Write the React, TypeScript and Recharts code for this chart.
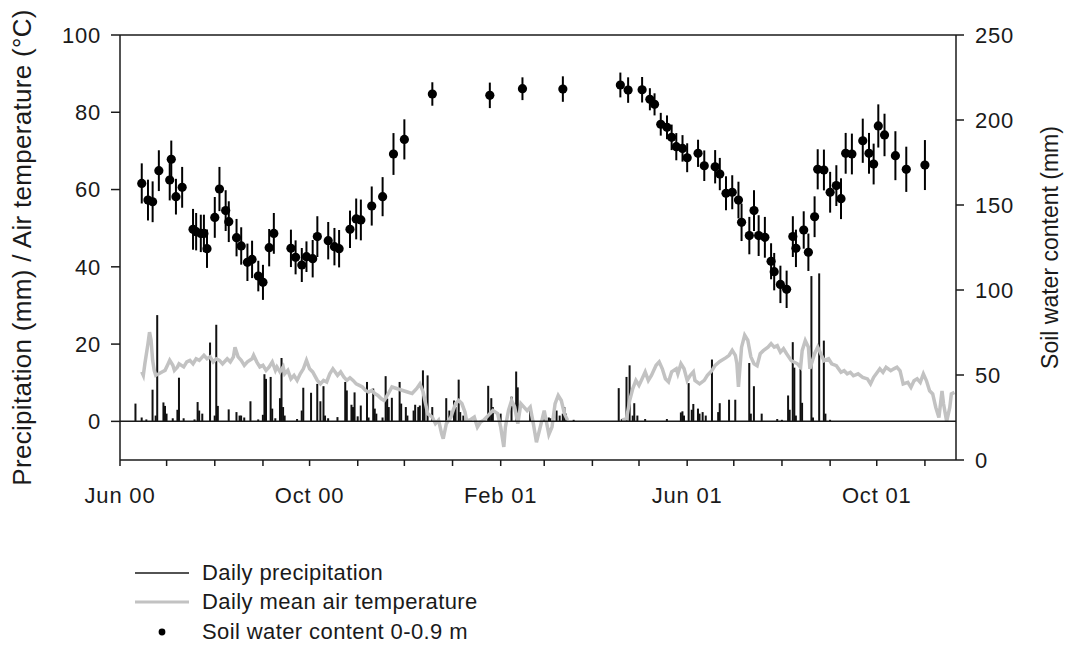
import React from 'react';
import {
  ComposedChart,
  Bar,
  Line,
  Scatter,
  ErrorBar,
  XAxis,
  YAxis,
  ReferenceLine,
  Legend,
  Label,
} from 'recharts';

const FONT = '"Liberation Sans", Arial, Helvetica, sans-serif';
const INK = '#1a1a1a';
const TEMP_GREY = '#c2c2c2';

// x values are days counted from 1 June 2000
const MONTH_TICKS = [0, 30, 61, 92, 122, 153, 183, 214, 245, 273, 304, 334, 365, 395, 426, 457, 487, 518];
const MONTH_LABELS: Record<number, string> = {
  0: 'Jun 00',
  122: 'Oct 00',
  245: 'Feb 01',
  365: 'Jun 01',
  487: 'Oct 01',
};
const LEFT_TICKS = [0, 20, 40, 60, 80, 100];
const RIGHT_TICKS = [0, 50, 100, 150, 200, 250];

// [day, mm]
const PRECIP: [number, number][] = [
  [10, 4.6], [14, 1.0], [17, 0.5], [21, 8.2], [23, 1.5], [24, 27.5], [28, 4.9], [29, 4.0], [30, 2.0],
  [34, 0.8], [37, 3.0], [38, 11.3], [41, 0.8], [48, 0.5], [50, 5.0], [51, 2.8], [53, 2.0], [58, 20.4],
  [61, 1.5], [62, 25.0], [63, 4.0], [70, 3.1], [75, 2.4], [77, 1.5], [78, 1.5], [80, 1.0], [84, 5.2],
  [89, 0.5], [92, 1.7], [93, 12.2], [94, 11.0], [97, 11.5], [98, 3.3], [100, 0.8], [103, 6.0], [104, 16.4],
  [105, 3.7], [106, 1.5], [114, 0.6], [117, 2.8], [118, 8.7], [123, 7.4], [127, 9.7], [129, 5.2], [131, 9.1],
  [132, 1.5], [134, 0.8], [140, 1.1], [145, 10.2], [146, 8.0], [149, 4.3], [150, 3.7], [151, 7.5], [153, 1.3],
  [155, 4.1], [159, 10.2], [160, 1.0], [163, 8.5], [164, 3.3], [165, 2.0], [169, 1.0], [171, 11.7], [172, 5.9],
  [173, 3.7], [175, 6.1], [180, 10.2], [181, 4.6], [184, 3.7], [185, 1.5], [189, 2.8], [190, 4.3], [192, 3.7],
  [193, 4.1], [195, 13.2], [196, 6.2], [198, 11.9], [201, 3.7], [210, 6.0], [212, 2.8], [215, 5.4], [216, 3.7],
  [218, 10.8], [219, 2.4], [221, 1.5], [237, 9.2], [238, 2.0], [239, 6.0], [240, 3.7], [245, 2.0], [252, 6.4],
  [255, 12.9], [256, 8.8], [264, 3.0], [273, 2.4], [276, 1.0], [277, 0.8], [281, 2.8], [283, 1.5], [285, 2.0],
  [286, 3.7], [287, 2.0], [292, 0.4], [321, 8.6], [323, 0.6], [326, 11.5], [328, 14.5], [330, 1.5], [331, 4.7],
  [333, 1.5], [338, 0.6], [352, 0.6], [361, 2.3], [362, 2.6], [363, 1.5], [366, 9.9], [368, 3.0], [369, 4.5],
  [372, 3.3], [373, 2.0], [375, 2.4], [377, 1.5], [381, 16.0], [385, 2.4], [386, 4.7], [392, 5.6], [396, 5.6],
  [405, 15.1], [406, 2.0], [408, 9.1], [413, 2.0], [423, 0.6], [426, 0.4], [430, 6.7], [431, 3.0], [433, 20.5],
  [434, 13.9], [435, 1.5], [438, 13.6], [439, 4.8], [445, 37.6], [446, 1.0], [450, 38.3], [453, 20.9], [454, 2.0],
  [457, 0.4],
];

// [day, degC]; null marks the break in the record
const AIR_TEMP: [number, number | null][] = [
  [14, 12.8], [15, 11.9], [16, 14.9], [18, 20.1], [19, 23.1], [20, 21], [21, 15.8], [22, 13.2], [23, 11.9],
  [25, 12.3], [27, 12.8], [29, 13.2], [31, 14.9], [32, 15.8], [34, 14.5], [35, 13.2], [37, 14.1], [38, 14.9],
  [41, 14.1], [43, 15.4], [45, 15.8], [47, 14.9], [49, 16.2], [51, 15.8], [54, 17.1], [56, 16.2], [58, 16.7],
  [60, 15.4], [62, 16.2], [64, 15.8], [66, 14.9], [69, 16.2], [71, 15.4], [73, 16.7], [74, 19.2], [76, 16.7],
  [78, 15.8], [80, 14.5], [82, 15.4], [85, 16.2], [86, 17.1], [88, 15.4], [90, 14.1], [92, 14.5], [94, 13.2],
  [96, 14.1], [98, 15.4], [100, 13.2], [101, 14.1], [103, 12.8], [105, 14.1], [106, 12.3], [108, 13.2], [110, 11],
  [112, 11.9], [114, 10.6], [116, 12.3], [118, 13.6], [120, 15.8], [122, 13.6], [124, 12.8], [127, 10.6], [129, 9.7],
  [131, 10.6], [133, 10.2], [135, 12.3], [137, 13.6], [140, 11.9], [142, 12.8], [144, 11.5], [146, 10.6], [148, 11.3],
  [150, 10.6], [152, 9.7], [154, 9.3], [156, 8.9], [158, 8.0], [160, 7.6], [162, 8.0], [164, 7.2], [166, 6.7],
  [168, 5.9], [170, 5.4], [172, 6.7], [175, 8.9], [178, 8.5], [182, 8.0], [185, 7.6], [188, 7.2], [191, 8.5],
  [193, 9.7], [195, 7.7], [198, 2], [201, 1.1], [203, -0.6], [205, 0.3], [207, -3.2], [208, -4.5], [210, -0.6],
  [213, 1.1], [214, 2.4], [216, 4.6], [218, 5.4], [220, 4.6], [222, 2.4], [223, 0.3], [225, 0.3], [228, 1.1],
  [230, -1.5], [232, -0.2], [234, 0.3], [236, 1.1], [238, 2], [240, 2.8], [243, 2], [245, -1.5], [247, -6.6],
  [248, -1.5], [250, 2.8], [252, 5.4], [254, 3.7], [256, -0.6], [258, 4.6], [260, 3.7], [262, 2.8], [264, 3.7],
  [266, -0.6], [268, -5.4], [271, -0.6], [273, 2.8], [276, -3.4], [278, -1.5], [280, 4.6], [282, 6.7], [284, 5.4],
  [286, 2], [288, 0.3], [300, null], [323, 0.3], [326, 0.7], [328, 5.4], [330, 8.5], [332, 10.6], [334, 9.3],
  [336, 11], [338, 12.8], [340, 10.6], [342, 11.9], [345, 14.5], [347, 15.4], [349, 13.6], [351, 11], [353, 10.2],
  [355, 12.8], [358, 13.6], [359, 12.3], [361, 14.9], [363, 13.6], [365, 10.6], [367, 11.9], [369, 12.8], [370, 10.6],
  [373, 9.7], [376, 10.6], [378, 11.9], [381, 13.2], [383, 14.5], [386, 15.5], [390, 16.5], [392, 17.1], [394, 18.4],
  [396, 17.1], [397, 14.9], [398, 8.9], [399, 14.1], [400, 19.2], [402, 22.3], [404, 21], [406, 16.7], [408, 14.9],
  [410, 14.4], [412, 17.5], [414, 18.3], [417, 19.2], [419, 20.1], [421, 19.2], [423, 19.6], [425, 17.9], [427, 18.8],
  [429, 17.5], [432, 15.7], [434, 15.3], [436, 14.9], [438, 14], [439, 18.3], [441, 20.9], [443, 19.2], [444, 13.6],
  [447, 17.5], [449, 19.2], [451, 17.5], [453, 15.7], [456, 16.2], [458, 14.9], [461, 14.4], [464, 12.7], [466, 13.1],
  [468, 12.3], [470, 12.7], [472, 11.8], [475, 12.3], [478, 11.4], [481, 11], [483, 9.7], [485, 11.4], [489, 13.6],
  [491, 12.7], [493, 14], [496, 13.1], [498, 13.6], [500, 14], [502, 13.1], [504, 9.7], [507, 10.1], [509, 8.8],
  [511, 10.5], [513, 11], [515, 10.1], [517, 12.3], [519, 10.5], [521, 7.9], [523, 7.1], [525, 3.6], [527, 1],
  [529, 7.9], [530, 4.5], [532, 0], [534, 3.6], [535, 7.1], [537, 7.5],
];

// [day, mm, error]
const SOIL_WATER: [number, number, number][] = [
  [14, 162.7, 11.8], [18, 152.9, 12], [21, 151.9, 12], [25, 170.2, 12], [32, 164.7, 12], [33, 176.9, 11],
  [36, 154.9, 10.5], [40, 160.4, 12], [47, 135.7, 12], [49, 134.3, 11], [52, 133.3, 11], [54, 133.3, 11],
  [56, 124.3, 11.3], [61, 142.7, 12], [64, 159.4, 13], [68, 146.7, 12], [70, 140.2, 12], [75, 130.8, 11],
  [78, 125.9, 11], [82, 116.3, 11], [85, 118, 11], [89, 108.2, 9], [92, 104.5, 10.3], [96, 124.9, 11],
  [99, 133.3, 12], [110, 124.5, 11], [113, 119.2, 10], [117, 114.7, 10], [120, 119.6, 9], [124, 118.4, 11],
  [127, 131.4, 12], [134, 129, 11], [138, 125.5, 11], [141, 124.3, 11], [148, 135.7, 11], [152, 141.8, 12],
  [155, 141.2, 12], [162, 149.4, 11.5], [169, 154.9, 11.5], [176, 180, 12.3], [183, 188.6, 11.8],
  [201, 215.3, 6.9], [238, 214.5, 7.5], [259, 218.4, 6.7], [285, 218.2, 7.5], [322, 220.6, 7.3],
  [327, 217.6, 7.5], [336, 217.8, 7.5], [341, 212.2, 6.5], [344, 209.2, 6.5], [348, 197.5, 6.7], [352, 195.7, 7],
  [355, 189.8, 7.5], [358, 184.3, 8], [362, 183.3, 7.8], [365, 177.8, 8.5], [372, 180.4, 8], [376, 173.1, 9],
  [383, 172.5, 9.8], [386, 168.2, 9.5], [390, 156.9, 10], [394, 157.5, 10], [398, 152.9, 10.8], [400, 139.8, 11],
  [405, 132, 11], [408, 146.7, 12], [411, 132, 12], [415, 131, 12], [419, 116.9, 10.6], [421, 110.8, 11],
  [425, 103.3, 11], [429, 100.4, 11], [433, 131.4, 12], [435, 124.5, 11], [440, 135.3, 11], [443, 122.2, 11],
  [447, 143.1, 12], [449, 171, 11.8], [453, 170.6, 12], [457, 157.5, 12], [461, 161.4, 12], [464, 153.7, 12],
  [467, 180.4, 12], [471, 180, 12], [478, 187.8, 13], [482, 180.4, 12], [485, 174.1, 12], [488, 196.5, 12.7],
  [492, 191.2, 12.5], [499, 179, 14.4], [506, 171, 13.3], [518, 173.5, 14.7],
];

const precipData = PRECIP.map(([day, p]) => ({ day, p }));
const tempData = AIR_TEMP.map(([day, t]) => ({ day, t }));
const soilData = SOIL_WATER.map(([day, swc, err]) => ({ day, swc, err }));

const tickStyle = { fontFamily: FONT, fontSize: 22, fill: INK, letterSpacing: 0.8 };

// thin rain stick centred on its day, fixed 2px wide
const RainStick = (props: any) => {
  const { x, y, width, height } = props;
  if (x == null || height == null || height <= 0) return null;
  return <rect x={x + width / 2 - 1} y={y} width={2} height={height} fill="#111" />;
};

const SoilDot = (props: any) => {
  const { cx, cy } = props;
  if (cx == null || cy == null) return null;
  return <circle cx={cx} cy={cy} r={4.6} fill="#000" />;
};

const renderLegend = () => {
  const rows = [
    { key: 'p', text: 'Daily precipitation' },
    { key: 't', text: 'Daily mean air temperature' },
    { key: 's', text: 'Soil water content 0-0.9 m' },
  ];
  return (
    <div style={{ fontFamily: FONT, fontSize: 22, letterSpacing: 0.4, color: INK }}>
      {rows.map((row) => (
        <div key={row.key} style={{ display: 'flex', alignItems: 'center', height: 29.5 }}>
          <svg width={54} height={12} style={{ marginRight: 13 }}>
            {row.key === 'p' && <line x1={0} x2={54} y1={6} y2={6} stroke={INK} strokeWidth={1.6} />}
            {row.key === 't' && <line x1={0} x2={54} y1={6} y2={6} stroke={TEMP_GREY} strokeWidth={3} />}
            {row.key === 's' && <circle cx={27} cy={6} r={3.4} fill="#000" />}
          </svg>
          <span>{row.text}</span>
        </div>
      ))}
    </div>
  );
};

export default function App() {
  return (
    <div style={{ position: 'absolute', left: 0, top: 0, background: '#fff' }}>
      <ComposedChart
        width={1072}
        height={645}
        data={precipData}
        margin={{ top: 35, right: 10, bottom: 145, left: 10 }}
      >
        <XAxis
          type="number"
          dataKey="day"
          domain={[0, 538]}
          allowDataOverflow
          ticks={MONTH_TICKS}
          interval={0}
          tickFormatter={(d: number) => MONTH_LABELS[d] ?? ''}
          tickSize={6}
          tickMargin={21}
          height={40}
          stroke={INK}
          axisLine={{ stroke: INK, strokeWidth: 1.5 }}
          tickLine={{ stroke: INK, strokeWidth: 1.5 }}
          tick={tickStyle}
        />
        <YAxis
          yAxisId="left"
          domain={[-10, 100]}
          allowDataOverflow
          ticks={LEFT_TICKS}
          interval={0}
          width={110}
          tickSize={9}
          tickMargin={10}
          axisLine={{ stroke: INK, strokeWidth: 1.5 }}
          tickLine={{ stroke: INK, strokeWidth: 1.5 }}
          tick={tickStyle}
        >
          <Label
            value="Precipitation (mm) / Air temperature (°C)"
            angle={-90}
            position="center"
            dx={-43}
            style={{ fontFamily: FONT, fontSize: 26, letterSpacing: 0.3, fill: INK, textAnchor: 'middle' }}
          />
        </YAxis>
        <YAxis
          yAxisId="right"
          orientation="right"
          domain={[0, 250]}
          allowDataOverflow
          ticks={RIGHT_TICKS}
          interval={0}
          width={106}
          tickSize={8}
          tickMargin={11}
          axisLine={{ stroke: INK, strokeWidth: 1.5 }}
          tickLine={{ stroke: INK, strokeWidth: 1.5 }}
          tick={tickStyle}
        >
          <Label
            value="Soil water content (mm)"
            angle={-90}
            position="center"
            dx={41}
            style={{ fontFamily: FONT, fontSize: 23, fill: INK, textAnchor: 'middle' }}
          />
        </YAxis>

        <ReferenceLine yAxisId="left" y={100} stroke={INK} strokeWidth={1.5} />

        <Bar
          yAxisId="left"
          dataKey="p"
          fill="#111"
          barSize={2}
          shape={<RainStick />}
          isAnimationActive={false}
        />
        <Line
          yAxisId="left"
          data={tempData}
          dataKey="t"
          type="linear"
          stroke={TEMP_GREY}
          strokeWidth={3.5}
          dot={false}
          activeDot={false}
          connectNulls={false}
          isAnimationActive={false}
        />
        <ReferenceLine yAxisId="left" y={0} stroke={INK} strokeWidth={1.5} />
        <Scatter
          yAxisId="right"
          data={soilData}
          dataKey="swc"
          shape={<SoilDot />}
          isAnimationActive={false}
        >
          <ErrorBar dataKey="err" direction="y" width={0} stroke="#000" strokeWidth={2} />
        </Scatter>

        <Legend
          layout="vertical"
          align="center"
          verticalAlign="middle"
          content={renderLegend}
          wrapperStyle={{ left: 135, top: 558, width: 420, height: 90 }}
        />
      </ComposedChart>
    </div>
  );
}
